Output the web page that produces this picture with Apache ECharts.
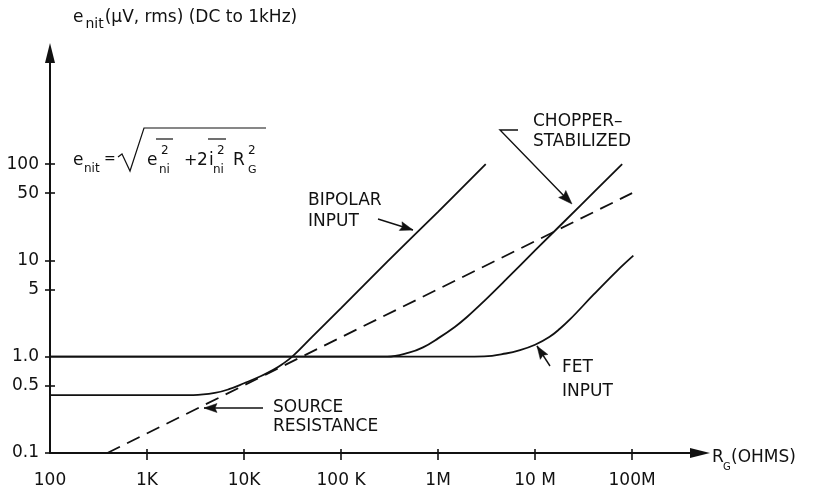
<!DOCTYPE html>
<html><head><meta charset="utf-8">
<script src="https://cdn.jsdelivr.net/npm/echarts@6/dist/echarts.min.js"></script>
<style>html,body{margin:0;padding:0;background:#fff}#c{width:813px;height:493px}</style>
</head><body><div id="c"></div>
<script>
// ---- data (source resistance R_G in ohms, noise in µV rms) ----
const bipolarR = [100, 1e3, 3e3, 5e3, 7e3, 1e4, 1.5e4, 2e4, 2.5e4, 3.2e4, 5e4, 1e5, 3e5, 1e6, 3.1e6];
const bipolarE = [0.4, 0.4, 0.4, 0.42, 0.46, 0.53, 0.63, 0.73, 0.84, 1.02, 1.6, 3.2, 9.7, 32, 100];
const chopperR = [100, 1e5, 3e5, 5e5, 7e5, 1e6, 1.5e6, 2e6, 3e6, 5e6, 1e7, 3e7, 7.9e7];
const chopperE = [1.0, 1.0, 1.0, 1.1, 1.25, 1.55, 2.05, 2.6, 3.8, 6.3, 12.7, 38, 100];
const fetR = [100, 1e6, 3e6, 5e6, 7e6, 1e7, 1.4e7, 1.8e7, 2.3e7, 4e7, 7e7, 1.03e8];
const fetE = [1.0, 1.0, 1.01, 1.08, 1.17, 1.33, 1.6, 1.95, 2.45, 4.4, 7.8, 11.2];
const sourceR = [390, 1e8];
const sourceE = [0.1, 50];

const xTickValues = [100, 1e3, 1e4, 1e5, 1e6, 1e7, 1e8];
const xTickLabels = ['100', '1K', '10K', '100 K', '1M', '10 M', '100M'];
const yTickValues = [0.1, 0.5, 1, 5, 10, 50, 100];
const yTickLabels = ['0.1', '0.5', '1.0', '5', '10', '50', '100'];

// axis extents (log axes)
const X_MIN = 100, X_MAX = Math.pow(10, 8.70);
const Y_MIN = 0.1, Y_MAX = Math.pow(10, 3.154);

const INK = '#111';
const FONT = '"DejaVu Sans"';
const lg = v => Math.log10(v);

function nearestLabel(vals, labels, v) {
  let best = 0, bd = Infinity;
  vals.forEach((t, i) => { const d = Math.abs(lg(t) - v); if (d < bd) { bd = d; best = i; } });
  return bd < 1e-3 ? labels[best] : '';
}

const pairs = (xs, ys) => xs.map((x, i) => [x, ys[i]]);

const chart = echarts.init(document.getElementById('c'), null, {renderer: 'canvas'});

// overlay value axes in log10 units used only to draw ticks/labels/axis lines
const xOverlayBase = {
  type: 'value', gridIndex: 0, position: 'bottom',
  min: lg(X_MIN), max: lg(X_MAX), splitLine: {show: false},
};
const yOverlayBase = {
  type: 'value', gridIndex: 0, position: 'left',
  min: lg(Y_MIN), max: lg(Y_MAX), splitLine: {show: false},
};

// annotation helpers
function text(x, y, t, size, extra) {
  return Object.assign({
    type: 'text', x: x, y: y, silent: true,
    style: {text: t, font: size + 'px ' + FONT, fill: INK,
      align: 'left', verticalAlign: 'middle', textAlign: 'left', textVerticalAlign: 'middle'}
  }, extra || {});
}
function line(points, w) {
  return {type: 'polyline', silent: true, shape: {points: points},
    style: {stroke: INK, lineWidth: w || 1.4, fill: null}};
}
function head(fromX, fromY, tipX, tipY, len, half) {
  const dx = tipX - fromX, dy = tipY - fromY, L = Math.hypot(dx, dy);
  const ux = dx / L, uy = dy / L, bx = tipX - ux * len, by = tipY - uy * len;
  return {type: 'polygon', silent: true,
    shape: {points: [[tipX, tipY], [bx - uy * half, by + ux * half], [bx + ux * 2, by + uy * 2], [bx + uy * half, by - ux * half]]},
    style: {fill: INK, stroke: INK, lineWidth: 0.5}};
}
function arrow(x1, y1, x2, y2) {
  return [line([[x1, y1], [x2, y2]], 1.4), head(x1, y1, x2, y2, 13, 4.5)];
}

const titleText = '{e|e}{s|nit}{n|(μV, rms) (DC to 1kHz)}';
const graphics = [].concat(
  // y-axis title
  [text(73, 18, titleText, 17, {
    style: {text: titleText, fill: INK, font: '17px ' + FONT,
      align: 'left', verticalAlign: 'middle',
      rich: {e: {font: '17px ' + FONT, fill: INK},
             s: {font: '14px ' + FONT, fill: INK, padding: [12, 1, 0, 2]},
             n: {font: '17px ' + FONT, fill: INK}}}
  })],
  // x-axis title
  [text(712, 458, 'R', 17), text(723, 467, 'G', 10), text(731, 458, '(OHMS)', 17)],
  // formula
  [text(73, 161, 'e', 17), text(84, 169, 'nit', 12), text(104, 159, '=', 14),
   line([[118, 157], [122, 154], [130, 171], [144, 128], [266, 128]], 1.2),
   text(147, 161, 'e', 17), text(161, 151, '2', 12), text(159, 170, 'ni', 12),
   line([[156, 139], [173, 139]], 1.2),
   text(184, 161, '+', 16), text(197, 161, '2', 17), text(209, 161, 'i', 17),
   text(217, 151, '2', 12), text(213, 170, 'ni', 12),
   line([[208, 139], [226, 139]], 1.2),
   text(233, 161, 'R', 17), text(248, 151, '2', 12), text(248, 170, 'G', 11)],
  // BIPOLAR INPUT
  [text(308, 201, 'BIPOLAR', 17), text(308, 222, 'INPUT', 17)],
  arrow(378, 219, 413, 230),
  // CHOPPER-STABILIZED
  [text(533, 122, 'CHOPPER–', 17), text(533, 142, 'STABILIZED', 17),
   line([[518, 130], [500, 130], [566, 198]], 1.4), head(500, 130, 572, 204, 14, 5)],
  // FET INPUT
  [text(562, 368, 'FET', 17), text(562, 392, 'INPUT', 17)],
  arrow(550, 366, 537, 346),
  // SOURCE RESISTANCE
  [text(273, 408, 'SOURCE', 17), text(273, 427, 'RESISTANCE', 17)],
  arrow(263, 408, 204, 408)
);

const option = {
  animation: false,
  backgroundColor: '#fff',
  grid: {left: 50, right: 113, top: 53, bottom: 40, containLabel: false},
  xAxis: [
    // data axis (logarithmic), invisible
    {type: 'log', logBase: 10, min: X_MIN, max: X_MAX, gridIndex: 0, position: 'bottom',
     axisLine: {show: false}, axisTick: {show: false}, axisLabel: {show: false}, splitLine: {show: false}},
    // visible axis: line, outward ticks, labels
    Object.assign({}, xOverlayBase, {
      axisLine: {show: true, onZero: false, symbol: ['none', 'triangle'], symbolSize: [10, 20],
                 lineStyle: {color: INK, width: 2}},
      axisTick: {show: true, inside: false, length: 7, lineStyle: {color: INK, width: 1.6},
                 customValues: xTickValues.slice(1).map(lg)},
      axisLabel: {show: true, margin: 19, color: INK, fontFamily: FONT, fontSize: 17,
                  customValues: xTickValues.map(lg),
                  formatter: v => nearestLabel(xTickValues, xTickLabels, v)}
    }),
    // inward ticks
    Object.assign({}, xOverlayBase, {
      axisLine: {show: false, onZero: false},
      axisTick: {show: true, inside: true, length: 4, lineStyle: {color: INK, width: 1.6},
                 customValues: xTickValues.slice(1).map(lg)},
      axisLabel: {show: false}
    })
  ],
  yAxis: [
    {type: 'log', logBase: 10, min: Y_MIN, max: Y_MAX, gridIndex: 0, position: 'left',
     axisLine: {show: false}, axisTick: {show: false}, axisLabel: {show: false}, splitLine: {show: false}},
    Object.assign({}, yOverlayBase, {
      axisLine: {show: true, onZero: false, symbol: ['none', 'triangle'], symbolSize: [10, 20],
                 lineStyle: {color: INK, width: 2}},
      axisTick: {show: true, inside: false, length: 5, lineStyle: {color: INK, width: 1.6},
                 customValues: yTickValues.map(lg)},
      axisLabel: {show: true, margin: 11, color: INK, fontFamily: FONT, fontSize: 17,
                  customValues: yTickValues.map(lg),
                  formatter: v => nearestLabel(yTickValues, yTickLabels, v)}
    }),
    Object.assign({}, yOverlayBase, {
      axisLine: {show: false, onZero: false},
      axisTick: {show: true, inside: true, length: 5, lineStyle: {color: INK, width: 1.6},
                 customValues: [0.5, 5, 10, 50, 100].map(lg)},
      axisLabel: {show: false}
    })
  ],
  series: [
    {name: 'Bipolar input', type: 'line', xAxisIndex: 0, yAxisIndex: 0, data: pairs(bipolarR, bipolarE),
     showSymbol: false, smooth: 0.4, lineStyle: {color: INK, width: 1.8}, silent: true},
    {name: 'Chopper-stabilized', type: 'line', xAxisIndex: 0, yAxisIndex: 0, data: pairs(chopperR, chopperE),
     showSymbol: false, smooth: 0.4, lineStyle: {color: INK, width: 1.8}, silent: true},
    {name: 'FET input', type: 'line', xAxisIndex: 0, yAxisIndex: 0, data: pairs(fetR, fetE),
     showSymbol: false, smooth: 0.4, lineStyle: {color: INK, width: 1.8}, silent: true},
    {name: 'Source resistance', type: 'line', xAxisIndex: 0, yAxisIndex: 0, data: pairs(sourceR, sourceE),
     showSymbol: false, lineStyle: {color: INK, width: 1.8, type: [14, 8]}, silent: true}
  ],
  graphic: {elements: graphics}
};
chart.setOption(option);
</script>
</body></html>
